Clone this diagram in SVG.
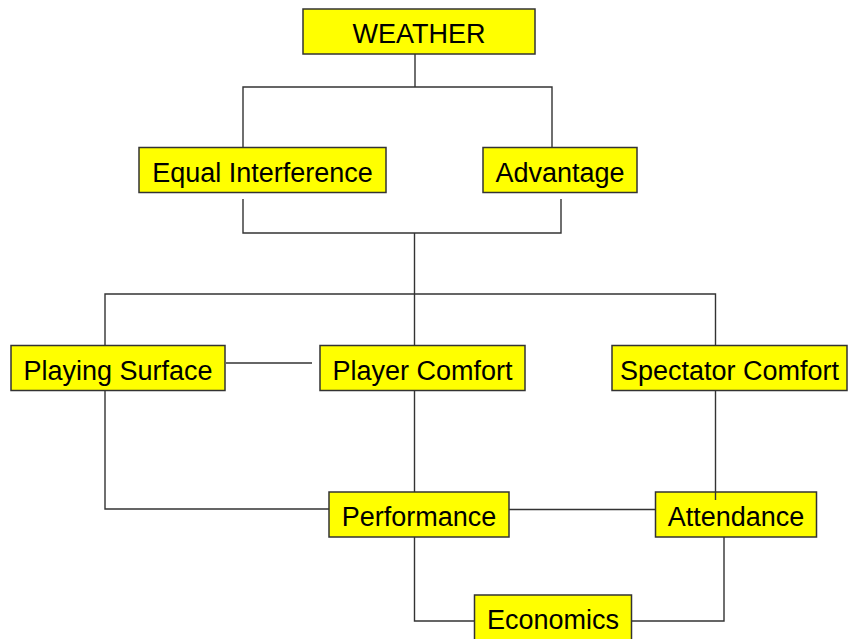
<svg xmlns="http://www.w3.org/2000/svg" width="848" height="639" viewBox="0 0 848 639">
  <style>
    .box { fill: #ffff00; stroke: #333333; stroke-width: 1.5; }
    .lbl { font-family: "Liberation Sans", Arial, Helvetica, sans-serif; font-size: 27px; fill: #000000; text-anchor: middle; }
    .wire { fill: none; stroke: #333333; stroke-width: 1.4; }
  </style>
  <rect width="848" height="639" fill="#ffffff"/>

  <!-- nodes -->
  <g id="weather">
    <rect class="box" x="303" y="9" width="232" height="45"/>
    <text class="lbl" x="419" y="43">WEATHER</text>
  </g>
  <g id="equal-interference">
    <rect class="box" x="139" y="147.5" width="247" height="45"/>
    <text class="lbl" x="262.5" y="181.5">Equal Interference</text>
  </g>
  <g id="advantage">
    <rect class="box" x="483" y="147.5" width="154" height="45"/>
    <text class="lbl" x="560" y="181.5">Advantage</text>
  </g>
  <g id="playing-surface">
    <rect class="box" x="11" y="345.5" width="214" height="45"/>
    <text class="lbl" x="118" y="379.5">Playing Surface</text>
  </g>
  <g id="player-comfort">
    <rect class="box" x="320" y="345.5" width="205" height="45"/>
    <text class="lbl" x="422.5" y="379.5">Player Comfort</text>
  </g>
  <g id="spectator-comfort">
    <rect class="box" x="612" y="345.5" width="235" height="45"/>
    <text class="lbl" x="729.5" y="379.5">Spectator Comfort</text>
  </g>
  <g id="performance">
    <rect class="box" x="329" y="492" width="180" height="45"/>
    <text class="lbl" x="419" y="526">Performance</text>
  </g>
  <g id="attendance">
    <rect class="box" x="655.5" y="492" width="161" height="45"/>
    <text class="lbl" x="736" y="526">Attendance</text>
  </g>
  <g id="economics">
    <rect class="box" x="474.5" y="595" width="157" height="45"/>
    <text class="lbl" x="553" y="629">Economics</text>
  </g>

  <!-- connectors -->
  <g id="connectors">
    <path class="wire" d="M415 54 V87"/>
    <path class="wire" d="M243 147.5 V87 H552 V147.5"/>
    <path class="wire" d="M243 199 V233 H561 V199"/>
    <path class="wire" d="M414.5 233 V345.5"/>
    <path class="wire" d="M105 345.5 V294 H715.5 V345.5"/>
    <path class="wire" d="M226 363 H312"/>
    <path class="wire" d="M105 390.5 V509 H329"/>
    <path class="wire" d="M414.5 390.5 V492"/>
    <path class="wire" d="M715.5 390.5 V500"/>
    <path class="wire" d="M509 509.5 H655.5"/>
    <path class="wire" d="M414.5 537 V621 H474.5"/>
    <path class="wire" d="M724 537 V621 H631.5"/>
  </g>
</svg>
